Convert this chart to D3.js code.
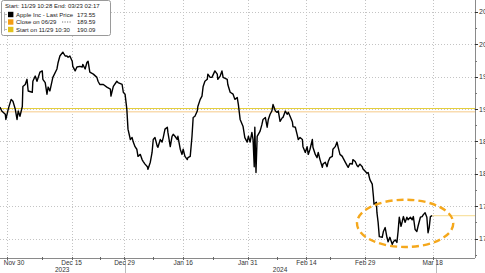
<!DOCTYPE html>
<html>
<head>
<meta charset="utf-8">
<script src="https://cdn.jsdelivr.net/npm/d3@7"></script>
<style>
  body { margin: 0; background: #fff; }
  svg { display: block; font-family: "Liberation Sans", Arial, sans-serif; }
</style>
</head>
<body>
<div id="chart"></div>
<script>
// trading-day index (0 = Nov 29) and last price
var days = [-0.2,0.1,0.7,0.8,1.2,1.7,2.0,2.4,2.7,2.9,3.2,3.6,3.7,4.1,4.4,4.6,5.3,5.4,5.8,6.1,6.6,7.0,7.1,7.5,7.8,8.0,8.3,8.8,9.5,9.7,
  10.0,10.5,10.9,11.2,11.4,11.7,12.1,12.2,12.6,12.9,13.4,13.8,13.9,14.3,14.6,14.8,15.1,15.7,16.3,16.5,16.8,17.4,18.0,18.6,18.7,19.1,19.7,19.9,
  20.6,20.8,21.1,21.4,21.6,22.0,22.3,22.5,22.8,23.1,23.3,23.7,24.0,24.2,24.5,24.9,25.0,25.4,25.7,25.9,26.2,26.6,26.7,27.1,27.4,27.6,27.9,28.3,28.4,28.8,29.1,29.3,29.6,
  30.0,30.1,30.5,30.8,31.0,31.3,31.7,31.8,32.2,32.5,32.7,33.0,33.4,33.5,33.9,34.2,34.4,34.7,35.1,35.2,35.6,35.9,36.4,36.8,36.9,37.3,37.6,37.8,38.5,38.6,
  39.0,39.5,39.8,40.2,40.4,40.7,41.2,41.5,41.9,42.1,42.4,42.7,42.9,43.1,43.2,43.4,43.6,44.1,44.4,44.6,45.0,45.3,45.5,45.8,46.1,46.3,46.7,47.0,47.2,47.5,47.9,48.0,48.4,48.7,48.9,
  49.2,49.6,49.7,50.1,50.4,50.6,50.9,51.3,51.4,51.8,52.1,52.3,52.6,53.0,53.1,53.5,53.8,54.0,54.3,54.7,54.8,55.2,55.5,55.7,56.0,56.4,56.5,56.9,57.2,57.4,57.7,58.1,58.2,58.6,58.9,
  59.1,59.4,59.8,59.9,60.3,60.6,60.8,61.1,61.5,61.6,62.0,62.3,62.5,62.8,63.2,63.4,63.5,63.9,64.0,64.2,64.4,64.9,65.1,65.4,65.7,65.9,66.2,66.6,66.8,67.1,67.4,67.6,67.8,
  68.1,68.3,68.5,68.8,69.1,69.3,69.7,70.0,70.2,70.5,70.8,71.0,71.4,71.7,71.9,72.2,72.5,72.7,72.9,73.1,73.4];
var prices = [190.3,189.7,189.2,188.4,190.0,191.5,191.2,190.0,188.4,189.7,188.9,190.4,193.5,193.8,194.6,192.8,192.6,194.3,195.1,194.3,195.7,195.9,194.6,194.1,192.3,193.4,192.8,194.9,196.2,197.2,
  198.2,198.8,198.2,198.2,198.0,198.2,197.4,196.6,195.9,196.5,196.6,196.5,196.9,196.2,197.2,197.4,195.7,195.4,194.9,194.3,193.8,193.8,193.4,193.1,192.0,193.5,194.3,194.1,
  193.8,192.6,192.3,190.0,186.9,185.3,185.6,184.9,184.2,183.8,182.7,183.0,182.2,181.9,181.5,181.1,180.7,181.8,183.3,185.3,185.6,184.2,184.1,185.3,184.9,185.6,186.9,187.2,186.4,184.2,185.8,186.1,185.8,
  185.3,185.8,183.8,183.0,183.8,182.7,182.2,182.5,182.7,185.8,188.7,188.9,189.7,190.4,191.5,192.0,193.5,194.3,194.6,195.4,194.9,194.9,195.9,195.4,194.6,195.1,195.9,194.9,194.6,193.8,
  192.6,192.3,191.5,191.8,190.7,188.4,187.3,185.6,184.9,185.8,184.9,186.4,185.3,181.1,187.2,180.2,185.8,186.6,187.6,188.4,188.7,187.2,188.4,189.2,189.7,190.7,189.7,189.5,189.7,188.1,188.7,188.7,189.7,189.2,189.5,
  188.9,188.0,187.3,187.2,186.1,185.3,185.6,185.3,184.2,183.3,184.2,183.0,183.8,185.3,184.1,183.0,182.5,183.3,182.2,181.0,181.5,181.8,181.1,181.9,182.5,182.7,183.8,184.2,184.9,184.1,183.0,182.7,182.5,181.8,181.3,
  181.0,181.6,181.5,182.2,181.9,181.3,181.1,181.5,181.1,180.8,180.4,180.1,180.2,179.1,178.4,176.5,175.3,175.6,174.0,172.5,170.3,170.2,171.1,171.7,170.2,169.5,170.2,169.1,169.5,169.8,169.4,171.1,173.3,
  171.9,172.6,173.4,172.5,173.3,172.9,173.3,172.9,173.4,171.4,171.1,171.9,173.3,173.4,173.7,174.0,173.3,170.9,171.7,173.4,173.55];

var lastPrice = 173.55;
var closeLevel = 189.59;
var startLevel = 190.09;

var yTicks = [205, 200, 195, 190, 185, 180, 175, 170];
var yMinor = [202.5, 197.5, 192.5, 187.5, 182.5, 177.5, 172.5, 167.5];
var xTickDays = [1, 12, 21, 31, 42, 52, 62, 73.5];
var xTickLabels = ["Nov 30", "Dec 15", "Dec 29", "Jan 16", "Jan 31", "Feb 14", "Feb 29", "Mar 18"];
var xMinorDays = [7, 16.8, 25.9, 36.1, 47, 56, 67.8];
var yearLabels = ["2023", "2024"];
var yearLabelDays = [10.4, 47.5];
var yearBreaks = [21.1, 74.1];

var legendTitle = "Start: 11/29 10:28 End: 03/23 02:17";
var legendNames = ["Apple Inc - Last Price", "Close on 06/29", "Start on 11/29 10:30"];
var legendValues = ["173.55", "189.59", "190.09"];
var legendColors = ["#000000", "#f39c12", "#e2c21c"];

// highlighted range (ellipse)
var circleDays = [60.6, 77.0];
var circleVals = [168.7, 176.0];

var W = 485, H = 273;
var plotRight = 475, axisY = 258;

var svg = d3.select("#chart").append("svg")
    .attr("width", W)
    .attr("height", H);

var x = d3.scaleLinear().domain([-0.2, 80.7]).range([0, plotRight]);
var y = d3.scaleLinear().domain([167.0, 206.85]).range([axisY, 0]);

// grid
svg.append("g").selectAll("line").data(yTicks).enter().append("line")
    .attr("x1", 0).attr("x2", plotRight)
    .attr("y1", function(d) { return Math.round(y(d)) + 0.5; })
    .attr("y2", function(d) { return Math.round(y(d)) + 0.5; })
    .attr("stroke", "#c4c4c4").attr("stroke-dasharray", "1,2");

svg.append("g").selectAll("line").data(xTickDays).enter().append("line")
    .attr("x1", function(d) { return Math.round(x(d)) + 0.5; })
    .attr("x2", function(d) { return Math.round(x(d)) + 0.5; })
    .attr("y1", 0).attr("y2", axisY)
    .attr("stroke", "#c4c4c4").attr("stroke-dasharray", "1,2");

// reference lines
svg.append("line")
    .attr("x1", 0).attr("x2", plotRight)
    .attr("y1", y(closeLevel)).attr("y2", y(closeLevel))
    .attr("stroke", "#f9dcb0").attr("stroke-width", 1.5);
svg.append("line")
    .attr("x1", 0).attr("x2", plotRight)
    .attr("y1", y(startLevel)).attr("y2", y(startLevel))
    .attr("stroke", "#e6cf3c").attr("stroke-width", 1);
svg.append("line")
    .attr("x1", x(days[days.length - 1])).attr("x2", plotRight)
    .attr("y1", y(lastPrice)).attr("y2", y(lastPrice))
    .attr("stroke", "#f8e2a4").attr("stroke-width", 1.2);

// price line
var data = days.map(function(d, i) { return {t: d, v: prices[i]}; });
svg.append("path")
    .datum(data)
    .attr("fill", "none")
    .attr("stroke", "#000")
    .attr("stroke-width", 1.4)
    .attr("stroke-linejoin", "round")
    .attr("d", d3.line()
      .x(function(d) { return x(d.t); })
      .y(function(d) { return y(d.v); }));

// ellipse annotation
svg.append("ellipse")
    .attr("cx", (x(circleDays[0]) + x(circleDays[1])) / 2)
    .attr("cy", (y(circleVals[0]) + y(circleVals[1])) / 2)
    .attr("rx", (x(circleDays[1]) - x(circleDays[0])) / 2)
    .attr("ry", (y(circleVals[0]) - y(circleVals[1])) / 2)
    .attr("fill", "none")
    .attr("stroke", "#f5a81c")
    .attr("stroke-width", 2.4)
    .attr("stroke-dasharray", "7,4");

// bottom axis
svg.append("line")
    .attr("x1", 0).attr("x2", plotRight)
    .attr("y1", axisY + 0.5).attr("y2", axisY + 0.5)
    .attr("stroke", "#8a8a8a");
svg.append("g").selectAll("line").data(xTickDays.concat(xMinorDays)).enter().append("line")
    .attr("x1", function(d) { return Math.round(x(d)) + 0.5; })
    .attr("x2", function(d) { return Math.round(x(d)) + 0.5; })
    .attr("y1", axisY - 1).attr("y2", axisY + 2)
    .attr("stroke", "#666");
svg.append("g").selectAll("line").data(yearBreaks).enter().append("line")
    .attr("x1", function(d) { return Math.round(x(d)) + 0.5; })
    .attr("x2", function(d) { return Math.round(x(d)) + 0.5; })
    .attr("y1", axisY + 1).attr("y2", H)
    .attr("stroke", "#bbb");
svg.append("g").selectAll("text").data(xTickLabels).enter().append("text")
    .attr("x", function(d, i) { return Math.max(14, x(xTickDays[i])); })
    .attr("y", axisY + 6.5)
    .attr("text-anchor", "middle")
    .attr("font-size", "6.5px")
    .attr("fill", "#333")
    .text(function(d) { return d; });
svg.append("g").selectAll("text").data(yearLabels).enter().append("text")
    .attr("x", function(d, i) { return x(yearLabelDays[i]); })
    .attr("y", axisY + 13.5)
    .attr("text-anchor", "middle")
    .attr("font-size", "6.5px")
    .attr("fill", "#333")
    .text(function(d) { return d; });

// right axis
svg.append("line")
    .attr("x1", plotRight + 0.5).attr("x2", plotRight + 0.5)
    .attr("y1", 0).attr("y2", axisY)
    .attr("stroke", "#8a8a8a");
svg.append("g").selectAll("line").data(yTicks).enter().append("line")
    .attr("x1", plotRight).attr("x2", plotRight + 3)
    .attr("y1", function(d) { return Math.round(y(d)) + 0.5; })
    .attr("y2", function(d) { return Math.round(y(d)) + 0.5; })
    .attr("stroke", "#333");
svg.append("g").selectAll("line").data(yMinor).enter().append("line")
    .attr("x1", plotRight).attr("x2", plotRight + 2)
    .attr("y1", function(d) { return Math.round(y(d)) + 0.5; })
    .attr("y2", function(d) { return Math.round(y(d)) + 0.5; })
    .attr("stroke", "#777");
svg.append("g").selectAll("text").data(yTicks).enter().append("text")
    .attr("x", plotRight + 4)
    .attr("y", function(d) { return y(d) + 2.5; })
    .attr("font-size", "7px")
    .attr("fill", "#333")
    .text(function(d) { return d; });

// legend
var lg = svg.append("g");
lg.append("rect")
    .attr("x", 1.5).attr("y", 0.5).attr("width", 109).attr("height", 35)
    .attr("rx", 2)
    .attr("fill", "#fff").attr("stroke", "#9a9a9a");
lg.append("text")
    .attr("x", 5).attr("y", 8.3)
    .attr("font-size", "6px").attr("fill", "#222")
    .text(legendTitle);
lg.append("path")
    .attr("d", "M4.5,12 V31 M4.5,14.5 H7 M4.5,22 H7 M4.5,29.5 H7")
    .attr("fill", "none").attr("stroke", "#aaa").attr("stroke-width", 0.8);
legendNames.forEach(function(name, i) {
    var cy = 14.5 + i * 7.5;
    lg.append("rect")
      .attr("x", 8).attr("y", cy - 2.7).attr("width", 5.4).attr("height", 5.4)
      .attr("fill", legendColors[i]);
    lg.append("text")
      .attr("x", 16).attr("y", cy + 2.1)
      .attr("font-size", "6px").attr("fill", "#222")
      .text(name);
    lg.append("text")
      .attr("x", 77).attr("y", cy + 2.1)
      .attr("font-size", "6px").attr("fill", "#222")
      .text(legendValues[i]);
});
lg.append("line")
    .attr("x1", 62).attr("x2", 72).attr("y1", 22).attr("y2", 22)
    .attr("stroke", "#777").attr("stroke-dasharray", "1.2,1.3");
</script>
</body>
</html>
